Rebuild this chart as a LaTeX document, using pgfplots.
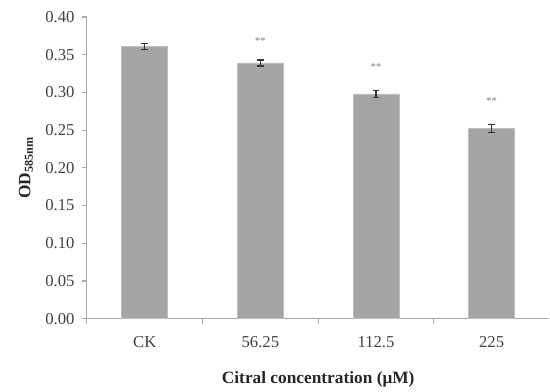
\documentclass[border=0pt]{standalone}
\usepackage{pgfplots}
\pgfplotsset{compat=1.18}
\usepackage{fontspec}
\setmainfont{Liberation Serif}
\definecolor{barfill}{RGB}{165,165,165}
\definecolor{baredge}{RGB}{190,190,190}
\definecolor{axisgray}{RGB}{170,170,170}
\definecolor{txt}{RGB}{64,64,64}
\begin{document}
\begin{tikzpicture}
\begin{axis}[
  name=ax,
  scale only axis,
  width=347.25pt, height=226.5pt,
  xmin=-0.5, xmax=3.5,
  ymin=0, ymax=0.4,
  axis x line=bottom, axis y line=left,
  axis line style={draw=axisgray, line width=0.8pt, -},
  every tick/.style={draw=axisgray, line width=0.8pt},
  tick align=outside,
  xtick={0,1,2,3},
  xticklabels={CK,56.25,112.5,225},
  major x tick style={draw=none},
  minor xtick={-0.5,0.5,1.5,2.5},
  minor tick length=3.75pt,
  major tick length=3.75pt,
  ytick={0,0.05,0.1,0.15,0.2,0.25,0.3,0.35,0.4},
  /pgf/number format/fixed,
  /pgf/number format/fixed zerofill,
  /pgf/number format/precision=2,
  /pgf/number format/assume math mode=true,
  ticklabel style={font=\fontsize{12.5}{14}\selectfont, text=txt},
  xticklabel style={yshift=-6pt},
  yticklabel style={xshift=-2pt},
  xlabel={\textbf{Citral concentration (μM)}},
  ylabel={\textbf{OD\textsubscript{585nm}}},
  label style={font=\fontsize{13}{15}\selectfont, text=black!85},
  xlabel style={at={(axis description cs:0.5,0)}, anchor=center, yshift=-45.75pt},
  ylabel style={at={(axis description cs:-0.132,0.5)}, anchor=center},
  clip=false,
]
\addplot[ybar, bar width=34.5pt, fill=barfill, draw=baredge, line width=0.6pt,
  error bars/.cd, y dir=both, y explicit,
  error bar style={black!80, line width=0.9pt},
  error mark options={rotate=90, mark size=2.6pt, line width=0.9pt, black!80}]
  coordinates {
  (0,0.361) +- (0,0.004)
  (1,0.339) +- (0,0.004)
  (2,0.298) +- (0,0.0045)
  (3,0.252) +- (0,0.005)
};
\node[font=\fontsize{8}{9}\selectfont, text=black!50] at (axis cs:1,0.3686) {**};
\node[font=\fontsize{8}{9}\selectfont, text=black!50] at (axis cs:2,0.334) {**};
\node[font=\fontsize{8}{9}\selectfont, text=black!50] at (axis cs:3,0.289) {**};
\end{axis}
\useasboundingbox ([xshift=-65.25pt, yshift=-54pt]ax.south west) rectangle ([yshift=12.75pt]ax.north east);
\end{tikzpicture}
\end{document}
